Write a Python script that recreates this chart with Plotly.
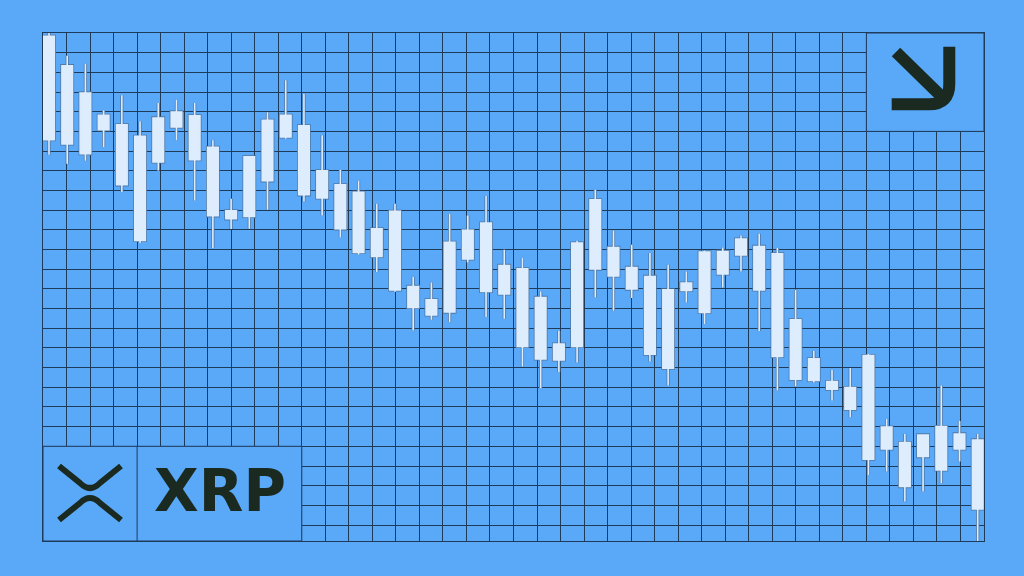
import plotly.graph_objects as go

# ---------------- data ----------------
candle_index = list(range(52))
open_ = [2.522, 2.375, 2.239, 2.055, 2.080, 2.022, 1.894, 2.069, 2.125, 1.967,
         1.610, 1.622, 1.800, 2.019, 2.075, 1.850, 1.780, 1.742, 1.560, 1.647,
         1.167, 1.130, 1.144, 1.410, 1.247, 1.377, 1.360, 1.217, 0.905, 0.972,
         1.359, 1.467, 1.367, 1.322, 1.255, 1.252, 1.142, 1.335, 1.430, 1.472,
         1.435, 1.105, 0.910, 0.797, 0.767, 0.927, 0.569, 0.492, 0.422, 0.355,
         0.460, 0.505]
close = [2.005, 1.984, 1.935, 2.127, 1.780, 1.502, 2.114, 2.144, 1.905, 1.625,
         1.650, 1.920, 2.102, 2.127, 1.730, 1.714, 1.560, 1.442, 1.422, 1.255,
         1.272, 1.205, 1.492, 1.552, 1.589, 1.235, 0.972, 0.910, 0.984, 1.489,
         1.705, 1.325, 1.259, 0.934, 0.864, 1.289, 1.444, 1.447, 1.509, 1.255,
         0.922, 0.809, 0.802, 0.759, 0.659, 0.409, 0.460, 0.272, 0.530, 0.572,
         0.535, 0.160]
high = [2.538, 2.425, 2.385, 2.152, 2.227, 2.097, 2.189, 2.205, 2.189, 2.002,
        1.710, 1.922, 2.142, 2.302, 2.235, 2.027, 1.855, 1.800, 1.685, 1.685,
        1.319, 1.292, 1.634, 1.627, 1.725, 1.455, 1.414, 1.247, 1.050, 1.500,
        1.755, 1.552, 1.480, 1.439, 1.380, 1.347, 1.450, 1.467, 1.527, 1.535,
        1.464, 1.255, 0.950, 0.855, 0.864, 0.935, 0.610, 0.535, 0.530, 0.777,
        0.600, 0.535]
low = [1.930, 1.885, 1.900, 1.969, 1.744, 1.489, 1.852, 2.002, 1.702, 1.464,
       1.559, 1.560, 1.655, 2.010, 1.697, 1.627, 1.517, 1.430, 1.344, 1.245,
       1.052, 1.105, 1.094, 1.392, 1.119, 1.110, 0.872, 0.764, 0.844, 0.892,
       1.217, 1.150, 1.214, 0.897, 0.777, 1.192, 1.084, 1.267, 1.347, 1.050,
       0.752, 0.772, 0.792, 0.702, 0.619, 0.330, 0.347, 0.197, 0.247, 0.289,
       0.397, 0.000]
title_text = "XRP"

# ---------------- style ----------------
BG = "#5aa8f8"
GRID = "#1f3b5a"
LIGHT = "#ddedfe"
EDGE = "#4f79a8"
INK = "#1b2a21"

X_RANGE = [-0.3295, 51.346]
X_T0, X_DT = -0.3295, 1.2919
Y_RANGE = [0.0, 2.5385]
Y_T0, Y_DT = 0.07975, 0.09835

def gx(k):
    return X_T0 + k * X_DT

def gy(k):
    return Y_T0 + k * Y_DT

L_M, R_M, T_M, B_M = 43, 40, 33, 35
W, H = 1024, 576
PW, PH = W - L_M - R_M, H - T_M - B_M

def P(x, y):
    return f"{(x - L_M) / PW:.5f},{(H - B_M - y) / PH:.5f}"

fig = go.Figure()

# outline layer then light core layer (gives outlined bodies and wicks)
for lw, col in [(3.2, EDGE), (1.6, LIGHT)]:
    style = dict(line=dict(color=col, width=lw), fillcolor=LIGHT)
    fig.add_trace(go.Candlestick(
        x=candle_index, open=open_, high=high, low=low, close=close,
        increasing=style, decreasing=style, whiskerwidth=0,
        showlegend=False, hoverinfo="skip"))

shapes = [
    # XRP box
    dict(type="rect", xref="x", yref="y", x0=X_RANGE[0], x1=gx(11), y0=Y_RANGE[0], y1=gy(4),
         fillcolor=BG, line=dict(color=GRID, width=1), layer="above"),
    dict(type="line", xref="x", yref="y", x0=gx(4), x1=gx(4), y0=Y_RANGE[0], y1=gy(4),
         line=dict(color=GRID, width=1), layer="above"),
    # arrow box
    dict(type="rect", xref="x", yref="y", x0=gx(35), x1=X_RANGE[1], y0=gy(20), y1=Y_RANGE[1],
         fillcolor=BG, line=dict(color=GRID, width=1), layer="above"),
    # Ripple-like logo
    dict(type="path", xref="paper", yref="paper",
         path=f"M {P(59,466)} L {P(80,483)} Q {P(90,493)} {P(100,483)} L {P(121,466)}",
         line=dict(color=INK, width=6), fillcolor="rgba(0,0,0,0)", layer="above"),
    dict(type="path", xref="paper", yref="paper",
         path=f"M {P(59,520)} L {P(80,503)} Q {P(90,493)} {P(100,503)} L {P(121,520)}",
         line=dict(color=INK, width=6), fillcolor="rgba(0,0,0,0)", layer="above"),
    # down-right arrow
    dict(type="path", xref="paper", yref="paper",
         path=f"M {P(896,52)} L {P(943,98)}",
         line=dict(color=INK, width=12), fillcolor="rgba(0,0,0,0)", layer="above"),
    dict(type="path", xref="paper", yref="paper",
         path=f"M {P(949.3,46.7)} L {P(949.3,84)} Q {P(949.3,104.3)} {P(929,104.3)} L {P(891.7,104.3)}",
         line=dict(color=INK, width=12), fillcolor="rgba(0,0,0,0)", layer="above"),
]

fig.update_layout(
    width=W, height=H,
    margin=dict(l=L_M, r=R_M, t=T_M, b=B_M),
    paper_bgcolor=BG, plot_bgcolor=BG,
    boxgap=0.42, boxgroupgap=0,
    shapes=shapes,
    annotations=[dict(text=f"<b>{title_text}</b>", xref="paper", yref="paper",
                      x=(220 - L_M) / PW, y=(H - B_M - 491) / PH,
                      xanchor="center", yanchor="middle", showarrow=False,
                      font=dict(family="DejaVu Sans", size=58, color=INK))],
    xaxis=dict(range=X_RANGE, tick0=X_T0, dtick=X_DT, showgrid=True, gridcolor=GRID, gridwidth=1,
               showticklabels=False, ticks="", zeroline=False, showline=True, mirror=True,
               linecolor=GRID, linewidth=1, rangeslider=dict(visible=False), fixedrange=True),
    yaxis=dict(range=Y_RANGE, tick0=Y_T0, dtick=Y_DT, showgrid=True, gridcolor=GRID, gridwidth=1,
               showticklabels=False, ticks="", zeroline=False, showline=True, mirror=True,
               linecolor=GRID, linewidth=1, fixedrange=True),
)

fig.write_html("out.html", config={"displayModeBar": False},
               post_script="document.body.style.margin='0';document.body.style.background='" + BG + "';")
